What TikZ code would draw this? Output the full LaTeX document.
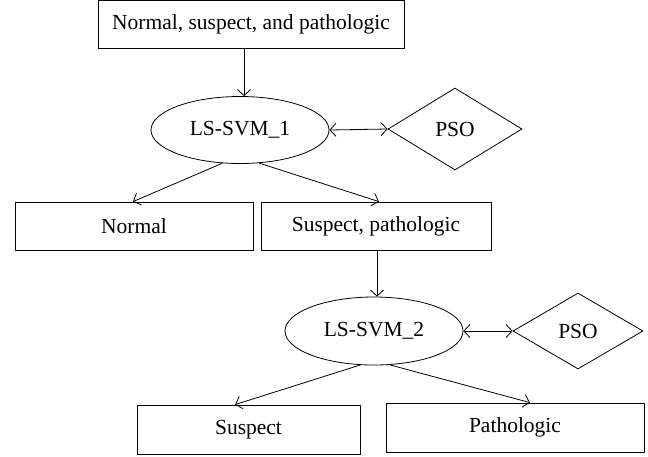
\documentclass[tikz,border=0pt]{standalone}
\usepackage{fontspec}
\setmainfont{Liberation Serif}
\usetikzlibrary{shapes.geometric,arrows.meta}
\begin{document}
\begin{tikzpicture}[x=1pt,y=-1pt,
  every node/.style={font=\fontsize{21.5}{24}\selectfont},
  box/.style={draw,line width=0.8pt,rectangle,inner sep=0pt},
  ell/.style={draw,line width=0.8pt,ellipse,inner sep=0pt},
  dia/.style={draw,line width=0.8pt,diamond,inner sep=0pt},
  conn/.style={line width=0.8pt,-{Straight Barb[length=6pt,width=13pt]}},
  biconn/.style={line width=0.8pt,{Straight Barb[length=6pt,width=13pt]}-{Straight Barb[length=6pt,width=13pt]}}]
\useasboundingbox (0,0) rectangle (648,456);
\node[box,minimum width=306pt,minimum height=48pt] (top) at (251,24.5) {Normal, suspect, and pathologic};
\node[ell,minimum width=178pt,minimum height=67pt] (svm1) at (240,130) {LS-SVM\_1};
\node[dia,minimum width=134pt,minimum height=82pt] (pso1) at (455,129) {PSO};
\node[box,minimum width=238pt,minimum height=48pt] (normal) at (134,226) {Normal};
\node[box,minimum width=230pt,minimum height=48pt] (sp) at (376,226) {Suspect, pathologic};
\node[ell,minimum width=178pt,minimum height=68pt] (svm2) at (374,331) {LS-SVM\_2};
\node[dia,minimum width=130pt,minimum height=76pt] (pso2) at (578,331) {PSO};
\node[box,minimum width=223pt,minimum height=49pt] (susp) at (248.5,429.5) {Suspect};
\node[box,minimum width=258pt,minimum height=49pt] (path) at (515,427.5) {Pathologic};
\draw[conn] (top.south -| 244,0) -- (svm1.north -| 244,0);
\draw[biconn] (svm1.east) -- (pso1.west);
\draw[conn] (svm1.-118) -- (normal.north -| 133,0);
\draw[conn] (svm1.-60) -- (sp.north -| 379,0);
\draw[conn] (sp.south -| 377,0) -- (svm2.north -| 377,0);
\draw[biconn] (svm2.east) -- (pso2.west);
\draw[conn] (svm2.-112) -- (susp.north -| 235,0);
\draw[conn] (svm2.-65) -- (path.north -| 530,0);
\end{tikzpicture}
\end{document}
